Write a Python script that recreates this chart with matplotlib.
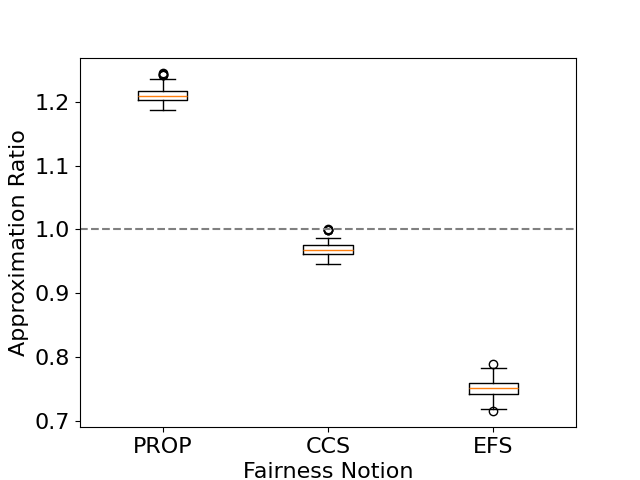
import matplotlib
matplotlib.use("Agg")
import matplotlib.pyplot as plt

# Box statistics
notions = ["PROP", "CCS", "EFS"]
medians = [1.2094, 0.968, 0.752]
q1 = [1.2031, 0.962, 0.7433]
q3 = [1.2172, 0.975, 0.7605]
whisker_low = [1.1864, 0.9464, 0.7198]
whisker_high = [1.236, 0.987, 0.7833]
outliers = [[1.2412, 1.2425, 1.2438, 1.2445],
            [0.9985, 0.9992, 0.9998, 1.0003],
            [0.789, 0.7156]]

stats = []
for i in range(len(notions)):
    stats.append({
        "label": notions[i],
        "med": medians[i],
        "q1": q1[i],
        "q3": q3[i],
        "whislo": whisker_low[i],
        "whishi": whisker_high[i],
        "fliers": outliers[i],
    })

plt.rcParams["font.size"] = 16

fig, ax = plt.subplots(figsize=(6.4, 4.8), dpi=100)
ax.bxp(stats, widths=0.3)
ax.axhline(1.0, color="grey", linestyle="--")
ax.set_xlim(0.5, 3.5)
ax.set_ylim(0.6906, 1.269)
ax.set_xlabel("Fairness Notion")
ax.set_ylabel("Approximation Ratio")
fig.savefig("out.png")
